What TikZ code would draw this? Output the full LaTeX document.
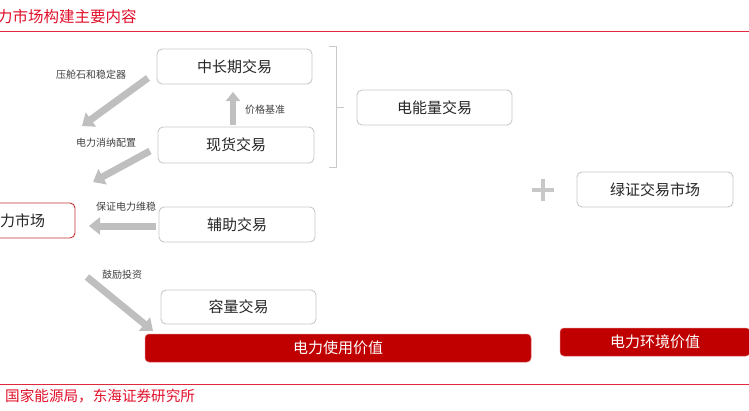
\documentclass[tikz,border=0pt]{standalone}
\usepackage{fontspec}
\setmainfont{Noto Sans CJK SC}
\usetikzlibrary{arrows.meta}
\definecolor{boxgray}{HTML}{C8C8C8}
\definecolor{arrgray}{HTML}{BFBFBF}
\definecolor{darkred}{HTML}{C00000}
\definecolor{titlered}{HTML}{E0102A}
\definecolor{linered}{HTML}{E0283C}
\tikzset{
  tbox/.style={draw=boxgray, line width=0.9pt, rounded corners=5pt, fill=white,
    inner sep=0pt, font=\fontsize{15}{17}\selectfont, text=black!85},
  rbox/.style={fill=darkred, draw=darkred!60, line width=0.5pt, rounded corners=4pt,
    inner sep=0pt, font=\fontsize{15}{17}\selectfont, text=white},
  fat/.style={draw=arrgray, line width=7pt, -{Triangle[width=17pt,length=11pt]}},
  lbl/.style={font=\fontsize{10}{12}\selectfont, text=black!75, inner sep=0pt},
}
\begin{document}
\begin{tikzpicture}[x=1pt,y=-1pt]
\useasboundingbox (0,0) rectangle (749,410);
% title and rules
\node[anchor=west, text=titlered, font=\fontsize{15.5}{17}\selectfont, inner sep=0pt] (title) at (-3,17) {力市场构建主要内容};
\draw[linered, line width=1.4pt] (0,31.5) -- (749,31.5);
\draw[linered, line width=1.4pt] (0,384.5) -- (749,384.5);
\node[anchor=west, text=titlered, font=\fontsize{14.6}{16}\selectfont, inner sep=0pt] (src) at (5,396) {国家能源局，东海证券研究所};

% boxes
\node[tbox, minimum width=155pt, minimum height=35pt] (zcq) at (234.5,66.5) {中长期交易};
\node[tbox, minimum width=156pt, minimum height=36pt] (xh) at (236,145) {现货交易};
\node[tbox, minimum width=155pt, minimum height=35pt] (dnl) at (434.5,107.5) {电能量交易};
\node[tbox, minimum width=156pt, minimum height=35pt] (fz) at (237,224.5) {辅助交易};
\node[tbox, minimum width=155pt, minimum height=34pt] (rl) at (238.5,307) {容量交易};
\node[tbox, minimum width=156pt, minimum height=35pt] (lz) at (655,189.5) {绿证交易市场};
\node[tbox, draw=red!70!black!80, minimum width=105pt, minimum height=35pt] (mkt) at (22.5,220.5) {力市场};

\node[rbox, minimum width=386pt, minimum height=28pt] (use) at (338,348) {电力使用价值};
\node[rbox, minimum width=190pt, minimum height=28pt] (env) at (655,342) {电力环境价值};

% bracket
\draw[boxgray, line width=0.9pt] (329,46.5) -- (336,46.5) -- (336,167) -- (329,167);
\draw[boxgray, line width=0.9pt] (336,107) -- (344,107);

% plus sign
\node[inner sep=0pt] (plus) at (543,190) {};
\draw[boxgray, line width=4.5pt] (532,190) -- (554,190);
\draw[boxgray, line width=4.5pt] (543,179) -- (543,201);

% arrow coordinates
\coordinate (a1s) at (148,78);
\coordinate (a1e) at (82,126);
\coordinate (a2s) at (150,151);
\coordinate (a2e) at (93,182);
\coordinate (a3s) at (156,226);
\coordinate (a3e) at (89,226);
\coordinate (a4s) at (233,125);
\coordinate (a4e) at (233,92);
\coordinate (a5s) at (87,277);
\coordinate (a5e) at (153,331);

\draw[fat] (a1s) -- (a1e);
\draw[fat] (a2s) -- (a2e);
\draw[fat] (a3s) -- (a3e);
\draw[draw=arrgray, line width=6pt, -{Triangle[width=14pt,length=9pt]}] (a4s) -- (a4e);
\draw[fat] (a5s) -- (a5e);

% labels
\node[lbl] (l1) at (91,75) {压舱石和稳定器};
\node[lbl] (l2) at (106,143) {电力消纳配置};
\node[lbl] (l3) at (126,207) {保证电力维稳};
\node[lbl] (l4) at (265,110) {价格基准};
\node[lbl] (l5) at (122,275) {鼓励投资};
\end{tikzpicture}
\end{document}
